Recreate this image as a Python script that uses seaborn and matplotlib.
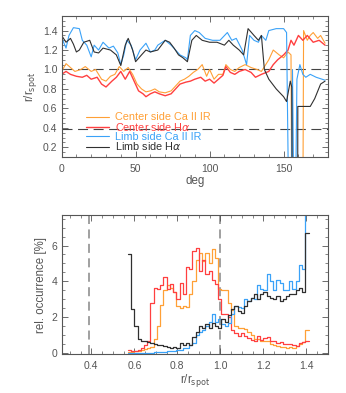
import numpy as np
import pandas as pd
import matplotlib
matplotlib.use('Agg')
import matplotlib.pyplot as plt
import seaborn as sns
from matplotlib.ticker import MultipleLocator

# ---- top panel: r/r_spot vs angle ----
deg_ca_c = [0, 3, 6, 9, 13, 16, 20, 23, 27, 30, 33, 36, 39, 42, 45, 48, 51, 54, 57, 60,
            63, 66, 70, 74, 77, 80, 83, 86, 89, 92, 95, 98, 100, 103, 106, 109, 111, 114, 117, 120,
            124, 128, 132, 135, 140, 143, 147, 150, 153, 155, 155.5, 163, 163.5, 166, 168, 170, 173, 175, 178]
ca_c = [0.98, 1.06, 1.02, 0.98, 1.0, 1.03, 0.98, 1.0, 0.9, 0.88, 0.93, 0.95, 1.03, 0.98, 1.02, 0.95, 0.85, 0.8, 0.77, 0.78,
        0.8, 0.77, 0.76, 0.78, 0.83, 0.88, 0.9, 0.93, 0.97, 1.0, 1.05, 0.93, 1.0, 0.9, 0.95, 0.95, 1.05, 1.0, 0.98, 1.02,
        1.05, 1.02, 1.0, 0.98, 1.1, 1.2, 1.15, 1.12, 1.18, 1.15, -0.5, -0.5, 1.4, 1.3, 1.35, 1.38, 1.32, 1.35, 1.27]

deg_ha_c = [0, 3, 6, 10, 14, 17, 20, 24, 27, 30, 34, 37, 40, 43, 46, 49, 52, 55, 57, 60,
            63, 66, 70, 74, 77, 80, 84, 87, 90, 94, 97, 100, 103, 106, 109, 111, 114, 117, 120, 124,
            128, 131, 135, 140, 143, 146, 150, 153, 155, 157, 160, 163, 166, 170, 174, 178]
ha_c = [0.95, 0.98, 0.95, 0.93, 0.92, 0.94, 0.9, 0.92, 0.85, 0.82, 0.88, 0.92, 0.98, 0.9, 0.98, 0.88, 0.78, 0.75, 0.72, 0.75,
        0.77, 0.75, 0.73, 0.75, 0.8, 0.85, 0.87, 0.88, 0.9, 0.92, 0.88, 0.9, 0.86, 0.9, 0.94, 1.03, 0.97, 0.95, 0.98, 1.0,
        0.97, 0.92, 0.95, 0.98, 1.05, 1.1, 1.15, 1.2, 1.3, 1.25, 1.35, 1.3, 1.35, 1.28, 1.3, 1.25]

deg_ca_l = [0, 3, 5, 8, 12, 14, 17, 20, 22, 25, 28, 32, 35, 38, 40, 42, 44, 47, 50, 53,
            57, 60, 63, 65, 70, 74, 77, 80, 84, 85, 87, 90, 93, 97, 102, 107, 112, 115, 118, 122,
            125, 127, 130, 133, 135, 138, 140, 145, 150, 152, 153.5, 155, 156, 157, 158, 159, 161, 163, 165, 168,
            172, 178]
ca_l = [1.33, 1.22, 1.35, 1.43, 1.42, 1.3, 1.25, 1.13, 1.25, 1.2, 1.28, 1.22, 1.24, 1.17, 1.05, 1.15, 1.3, 1.25, 1.1, 1.2,
        1.27, 1.18, 1.2, 1.25, 1.3, 1.25, 1.2, 1.15, 1.12, 1.1, 1.35, 1.4, 1.38, 1.32, 1.3, 1.3, 1.38, 1.3, 1.32, 1.2,
        1.05, 1.35, 1.3, 1.28, 1.35, 1.3, 1.4, 1.42, 1.42, 1.38, -0.5, -0.5, 1.0, -0.5, -0.5, 0.9, 1.05, 0.95, 0.92, 0.95,
        0.92, 0.89]

deg_ha_l = [0, 3, 6, 8, 10, 12, 15, 19, 22, 25, 28, 33, 37, 40, 43, 45, 48, 50, 54, 57,
            60, 65, 70, 73, 76, 79, 82, 85, 88, 91, 95, 100, 105, 110, 113, 116, 120, 123, 126, 130,
            133, 135, 137, 140, 145, 150, 152, 154.5, 155.5, 156, 159.5, 159.6, 168, 171, 175, 178]
ha_l = [1.35, 1.28, 1.32, 1.26, 1.18, 1.2, 1.28, 1.3, 1.18, 1.17, 1.22, 1.2, 1.15, 1.04, 1.25, 1.32, 1.2, 1.08, 1.15, 1.2,
        1.18, 1.2, 1.3, 1.28, 1.22, 1.15, 1.12, 1.08, 1.3, 1.35, 1.3, 1.28, 1.28, 1.25, 1.3, 1.25, 1.2, 1.15, 1.42, 1.35,
        1.3, 1.35, 1.0, 0.9, 0.8, 0.72, 0.67, 0.88, 0.82, -0.5, -0.5, 0.62, 0.62, 0.7, 0.85, 0.88]

# ---- bottom panel: histograms (56 bins from 0.57, width 0.015) ----
r_start, bin_w, n_bins = 0.57, 0.015, 56
hist_ca_c = [0.05, 0.05, 0.1, 0.1, 0.15, 0.25, 0.3, 0.35, 0.8, 1.5, 2.7, 3.5, 3.8, 3.65, 3.4, 2.6, 2.5, 2.6, 2.55, 3.3,
             4.0, 5.2, 5.6, 5.15, 5.6, 5.05, 5.8, 5.3, 3.6, 3.5, 3.5, 2.8, 2.4, 1.5, 1.4, 1.4, 1.35, 1.2, 1.0, 0.8,
             0.8, 0.7, 0.65, 0.7, 0.5, 0.45, 0.4, 0.35, 0.35, 0.3, 0.35, 0.3, 0.4, 0.5, 0.6, 1.3]
hist_ha_c = [0.2, 0.1, 0.1, 0.15, 0.3, 0.45, 0.7, 2.8, 3.65, 3.6, 3.8, 4.25, 3.55, 3.85, 3.4, 3.0, 3.9, 3.3, 4.8, 4.7,
             5.7, 5.85, 4.6, 5.2, 4.4, 4.6, 4.1, 3.85, 3.0, 2.2, 2.2, 2.0, 1.3, 1.1, 0.95, 1.1, 0.95, 0.85, 0.75, 0.7,
             0.95, 0.75, 0.85, 0.9, 0.7, 0.7, 0.55, 0.6, 0.5, 0.5, 0.5, 0.45, 0.4, 0.55, 0.6, 0.65]
hist_ca_l = [0.0, 0.0, 0.0, 0.0, 0.02, 0.02, 0.03, 0.03, 0.05, 0.05, 0.05, 0.05, 0.1, 0.1, 0.1, 0.15, 0.2, 0.3, 0.3, 0.45,
             0.55, 1.0, 1.2, 1.3, 1.5, 1.75, 2.2, 1.75, 1.9, 1.6, 1.5, 1.7, 2.2, 2.6, 2.55, 2.5, 3.0, 2.9, 3.1, 3.0,
             3.8, 3.6, 3.5, 4.4, 4.0, 3.5, 4.1, 3.9, 3.5, 3.5, 4.0, 3.6, 4.0, 4.9, 4.7, 9.0]
hist_ha_l = [5.55, 2.45, 1.5, 0.8, 0.65, 0.7, 0.6, 0.55, 0.5, 0.45, 0.45, 0.4, 0.35, 0.3, 0.35, 0.3, 0.55, 0.45, 0.55, 0.45,
             0.9, 1.2, 1.5, 1.4, 1.6, 1.4, 1.7, 1.5, 1.4, 1.9, 1.75, 2.15, 2.45, 2.6, 2.35, 2.25, 2.6, 2.9, 3.1, 3.3,
             3.0, 3.3, 3.4, 3.2, 3.1, 3.0, 3.2, 2.9, 3.0, 3.2, 3.3, 3.3, 3.5, 3.65, 3.4, 6.7]

labels = ['Center side Ca II IR', 'Center side H$\\alpha$', 'Limb side Ca II IR', 'Limb side H$\\alpha$']
colors = ['#FFA036', '#FF4040', '#3AA2F8', '#303030']

edges = [r_start + bin_w * i for i in range(n_bins + 1)]
centers = [r_start + bin_w * (i + 0.5) for i in range(n_bins)]

sns.set_style('ticks')
plt.rcParams.update({
    'font.family': 'Liberation Sans', 'font.size': 7.5,
    'axes.labelsize': 8.3, 'xtick.labelsize': 7.5, 'ytick.labelsize': 7.5,
    'axes.edgecolor': '#555555', 'axes.linewidth': 0.8,
    'text.color': '#555555', 'axes.labelcolor': '#555555',
    'xtick.color': '#555555', 'ytick.color': '#555555',
    'xtick.direction': 'in', 'ytick.direction': 'in',
    'xtick.top': True, 'ytick.right': True,
    'xtick.major.size': 4, 'ytick.major.size': 4,
    'xtick.minor.size': 2, 'ytick.minor.size': 2,
    'xtick.major.width': 0.6, 'ytick.major.width': 0.6,
    'xtick.minor.width': 0.5, 'ytick.minor.width': 0.5,
    'xtick.major.pad': 5, 'ytick.major.pad': 3,
})

fig = plt.figure(figsize=(3.46, 3.93), dpi=100)
ax1 = fig.add_axes([0.178, 0.6005, 0.770, 0.3588])
ax2 = fig.add_axes([0.178, 0.0992, 0.770, 0.3537])

series = [(deg_ca_c, ca_c), (deg_ha_c, ha_c), (deg_ca_l, ca_l), (deg_ha_l, ha_l)]
widths = [0.8, 1.0, 0.8, 0.8]
for (d, v), lab, c, w in zip(series, labels, colors, widths):
    sns.lineplot(x=d, y=v, ax=ax1, color=c, lw=w, estimator=None, sort=False, label=lab)

for yv in [1.0, 0.39]:
    ax1.axhline(yv, color='#444444', lw=0.8, ls=(0, (9, 5)), zorder=0)

ax1.set_xlim(0, 180)
ax1.set_ylim(0.1, 1.55)
ax1.xaxis.set_major_locator(MultipleLocator(50))
ax1.xaxis.set_minor_locator(MultipleLocator(10))
ax1.yaxis.set_major_locator(MultipleLocator(0.2))
ax1.yaxis.set_minor_locator(MultipleLocator(0.05))
ax1.set_xlabel('deg', labelpad=1)
ax1.set_ylabel(r'r/r$_{\mathrm{spot}}$', labelpad=3)
leg = ax1.legend(loc='upper left', bbox_to_anchor=(0.07, 0.355), frameon=False, labelcolor='linecolor',
                 handlelength=2.2, handletextpad=0.5, labelspacing=-0.12, borderpad=0, fontsize=7.8)

hists = [hist_ca_c, hist_ha_c, hist_ca_l, hist_ha_l]
for h, c in zip(hists, colors):
    df = pd.DataFrame({'r': centers, 'w': h})
    sns.histplot(data=df, x='r', weights='w', bins=edges, element='step', fill=False,
                 color=c, lw=0.9, ax=ax2)

for xv in [0.39, 1.0]:
    ax2.axvline(xv, color='#999999', lw=1.3, ls=(0, (5, 3)), zorder=0)

ax2.set_xlim(0.262, 1.5)
ax2.set_ylim(-0.05, 7.7)
ax2.xaxis.set_major_locator(MultipleLocator(0.2))
ax2.xaxis.set_minor_locator(MultipleLocator(0.05))
ax2.yaxis.set_major_locator(MultipleLocator(2))
ax2.yaxis.set_minor_locator(MultipleLocator(0.5))
ax2.set_xlabel(r'r/r$_{\mathrm{spot}}$', labelpad=1)
ax2.set_ylabel('rel. occurrence [%]', labelpad=3)

fig.savefig('out.png', dpi=100)
